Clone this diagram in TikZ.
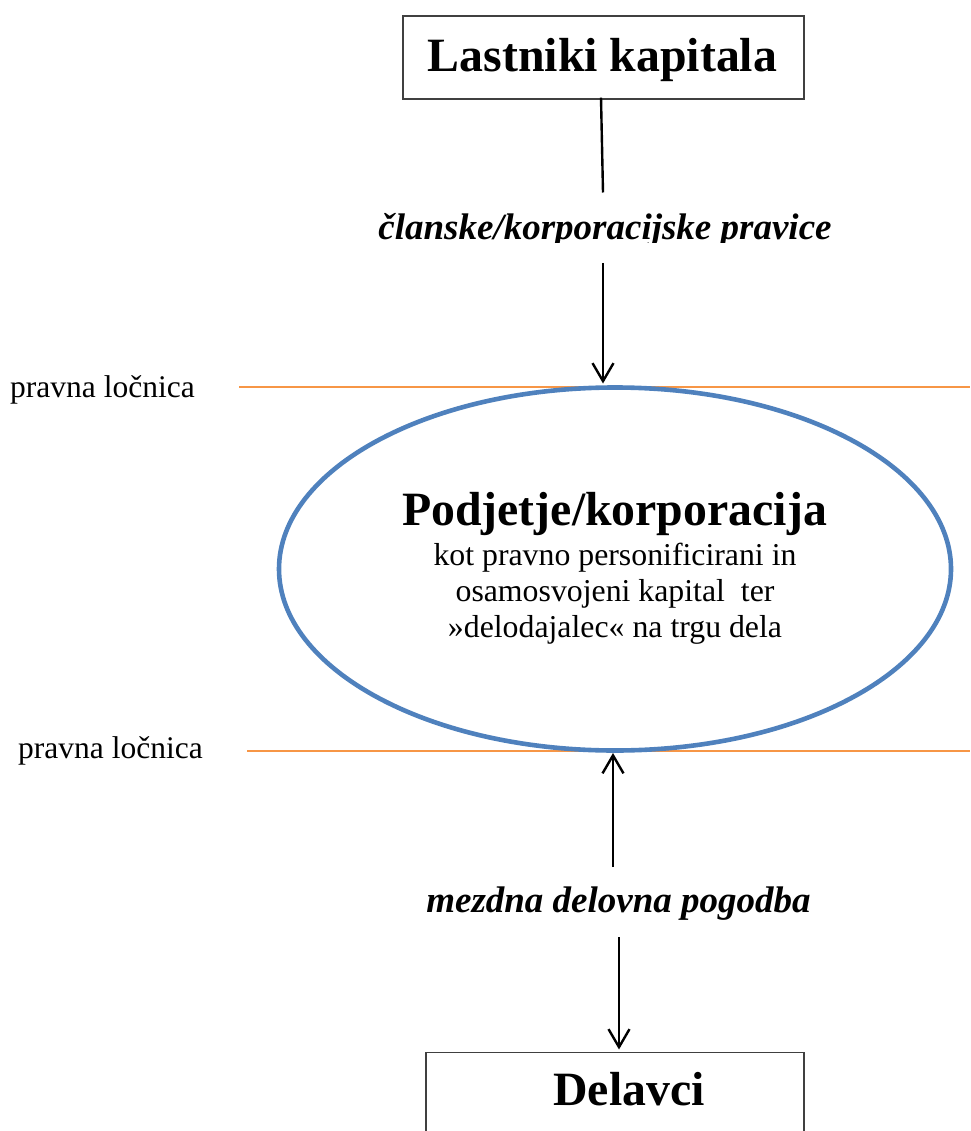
\documentclass[tikz,border=0pt]{standalone}
\usepackage{fontspec}
\setmainfont{Liberation Serif}
\usetikzlibrary{arrows.meta,shapes.geometric}
\definecolor{ellblue}{HTML}{4F81BD}
\definecolor{lineorange}{HTML}{F79646}
\definecolor{boxgray}{HTML}{404040}
\tikzset{
  x=1pt, y=-1pt,
  boxframe/.style={draw=boxgray, line width=1.6pt},
  bigbold/.style={font=\fontsize{47.8}{57}\selectfont\bfseries, anchor=base, inner sep=0pt},
  italab/.style={font=\fontsize{37}{44}\selectfont\bfseries\itshape, anchor=base, inner sep=0pt},
  sidelab/.style={font=\fontsize{31.5}{38}\selectfont, anchor=base west, inner sep=0pt},
  bodytxt/.style={font=\fontsize{31.8}{36}\selectfont, anchor=base, inner sep=0pt},
  conn/.style={line width=2.4pt, black},
  arr/.style={conn, -{Straight Barb[length=18pt,width=21pt,line width=2.4pt]}},
  legal/.style={draw=lineorange, line width=2pt},
}
\begin{document}
\begin{tikzpicture}
\useasboundingbox (0,0) rectangle (970,1131);
% top box
\node[boxframe, minimum width=401pt, minimum height=83pt, inner sep=0pt, anchor=north west] (owners) at (402,15) {};
\node[bigbold] (ownerstxt) at (602.5,72) {Lastniki kapitala};
% label 1 (clipped)
\begin{scope}
  \clip (300,200) rectangle (900,243);
  \node[italab] (rights) at (605,240) {članske/korporacijske pravice};
\end{scope}
% orange legal lines
\coordinate (l1a) at (239,387.3);
\coordinate (l1b) at (970,387.3);
\coordinate (l2a) at (247,750.7);
\coordinate (l2b) at (970,750.7);
\draw[legal] (l1a) -- (l1b);
\draw[legal] (l2a) -- (l2b);
\node[sidelab] (pl1) at (10,397) {pravna ločnica};
\node[sidelab] (pl2) at (18,758) {pravna ločnica};
% ellipse
\node[draw=ellblue, line width=4.6pt, ellipse, minimum width=672pt, minimum height=363pt, inner sep=0pt] (corp) at (615,569) {};
\node[bigbold] (corptitle) at (614.5,525) {Podjetje/korporacija};
\node[bodytxt] (c1) at (615,565) {kot pravno personificirani in};
\node[bodytxt] (c2) at (615,601) {osamosvojeni kapital\ \ ter};
\node[bodytxt] (c3) at (615,637) {»delodajalec« na trgu dela};
% label 2
\node[italab] (wage) at (618.5,912) {mezdna delovna pogodba};
% bottom box
\node[boxframe, minimum width=378pt, minimum height=120pt, inner sep=0pt, anchor=north west] (workers) at (425,1051.5) {};
\node[bigbold] (workerstxt) at (629,1105) {Delavci};
% connectors
\coordinate (c1s) at (601,97.7);
\coordinate (c1e) at (603,192.5);
\coordinate (a1s) at (603,263);
\coordinate (a1e) at (603,383.5);
\coordinate (a2s) at (613,867);
\coordinate (a2e) at (613,753);
\coordinate (a3s) at (619,937);
\coordinate (a3e) at (619,1049.5);
\draw[conn] (c1s) -- (c1e);
\draw[arr] (a1s) -- (a1e);
\draw[arr] (a2s) -- (a2e);
\draw[arr] (a3s) -- (a3e);
\end{tikzpicture}
\end{document}
